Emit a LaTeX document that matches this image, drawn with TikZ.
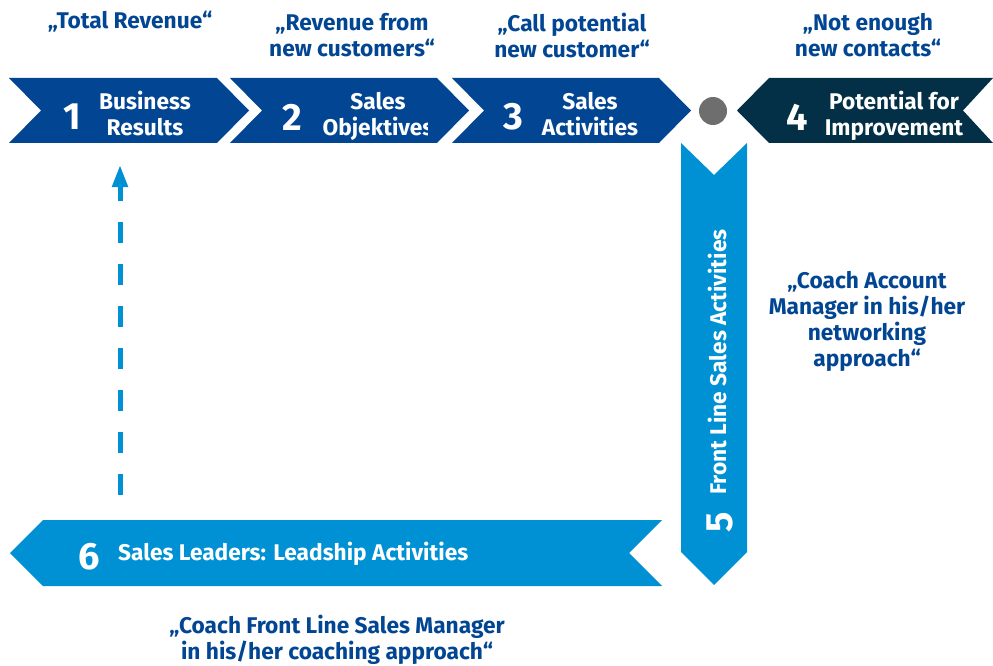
\documentclass[tikz,border=0pt]{standalone}
\usepackage{fontspec}
\setmainfont{Fira Sans}
\usetikzlibrary{arrows.meta}
\definecolor{cdark}{RGB}{2,70,147}
\definecolor{cnavy}{RGB}{4,48,71}
\definecolor{clight}{RGB}{0,145,213}
\definecolor{cgray}{RGB}{110,110,110}
\tikzset{
  lbl/.style={text=white,font=\bfseries\fontsize{22.7}{26}\selectfont,align=center,inner sep=0pt},
  num/.style={text=white,font=\bfseries\fontsize{38}{38}\selectfont,inner sep=0pt},
  quote/.style={text=cdark,font=\bfseries\fontsize{22.7}{26}\selectfont,align=center,inner sep=0pt},
}
\begin{document}
\begin{tikzpicture}[x=1pt,y=-1pt]
\useasboundingbox (0,0) rectangle (993,666);
% chevrons
\fill[cdark] (9,78) -- (217,78) -- (249,110.5) -- (217,143) -- (9,143) -- (41,110.5) -- cycle;
\fill[cdark] (230,78) -- (437,78) -- (469,110.5) -- (437,143) -- (230,143) -- (262,110.5) -- cycle;
\fill[cdark] (452,78) -- (659,78) -- (691,110.5) -- (659,143) -- (452,143) -- (484,110.5) -- cycle;
\fill[cnavy] (737,110.5) -- (769,78) -- (993,78) -- (963,110.5) -- (993,143) -- (769,143) -- cycle;
\fill[cgray] (713,111) circle (14);
\fill[clight] (681,143) -- (714,175) -- (747,143) -- (747,552) -- (714,585) -- (681,552) -- cycle;
\fill[clight] (10,553) -- (43,520) -- (662,520) -- (629,553) -- (662,586) -- (43,586) -- cycle;
% numbers and labels
\node[num] (n1) at (72,117) {1};
\node[lbl] (t1) at (145,113.5) {Business\\Results};
\node[num] (n2) at (292,117) {2};
\begin{scope}
\clip (300,80) rectangle (427,142);
\node[lbl] (t2) at (378,116) {Sales\\Objektives};
\end{scope}
\node[num] (n3) at (513,117) {3};
\node[lbl] (t3) at (590,114) {Sales\\Activities};
\node[num] (n4) at (797,117) {4};
\node[lbl] (t4) at (894,116) {Potential for\\Improvement};
\node[num,rotate=90] (n5) at (720,522) {5};
\node[lbl,rotate=90] (t5) at (717,362) {Front Line Sales Activities};
\node[num] (n6) at (89,557) {6};
\node[lbl,anchor=west] (t6) at (118,554) {Sales Leaders: Leadship Activities};
% quotes
\node[quote] (q1) at (130,22) {„Total Revenue“};
\node[quote] (q2) at (352,35) {„Revenue from\\new customers“};
\node[quote] (q3) at (572,35) {„Call potential\\new customer“};
\node[quote] (q4) at (868,35) {„Not enough\\new contacts“};
\node[quote] (q5) at (867,321) {„Coach Account\\Manager in his/her\\networking\\approach“};
\node[quote] (q6) at (337,640) {„Coach Front Line Sales Manager\\in his/her coaching approach“};
% dashed arrow
\coordinate (a0) at (120,495);
\coordinate (a1) at (120,165);
\draw[clight,line width=5,dash pattern=on 21 off 21,-{Triangle[length=22,width=15]}] (a0) -- (a1);
\end{tikzpicture}
\end{document}
